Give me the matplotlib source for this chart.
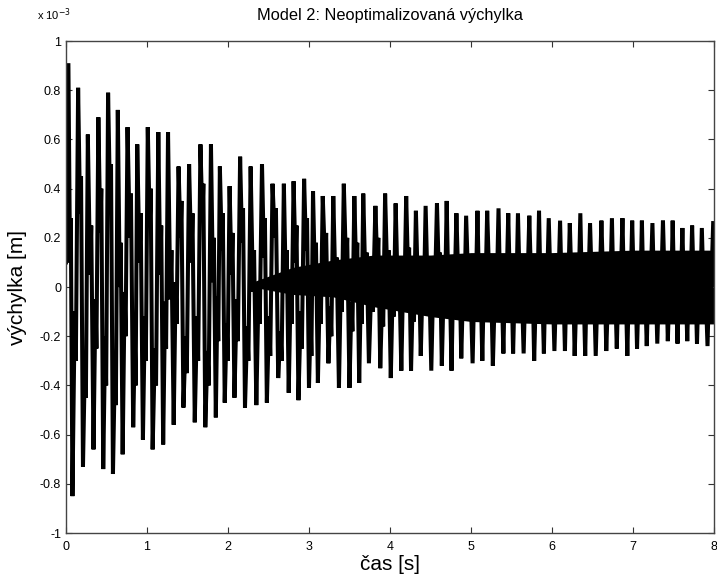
import numpy as np
import matplotlib
matplotlib.use("Agg")
import matplotlib.pyplot as plt
from matplotlib.ticker import FuncFormatter

plt.rcParams["font.family"] = ["Liberation Sans", "DejaVu Sans"]
plt.rcParams["axes.unicode_minus"] = False

# values, in units of 1e-3 m
start_t = [0.0]
start_v = [0.10]

top_t = [0.03, 0.15, 0.27, 0.40, 0.52, 0.64, 0.76, 0.88,
         1.01, 1.14, 1.26, 1.39, 1.52, 1.66, 1.79, 1.90,
         2.02, 2.15, 2.28, 2.42, 2.55, 2.69, 2.81, 2.94,
         3.05, 3.17, 3.30, 3.43, 3.56, 3.67, 3.82, 3.94,
         4.07, 4.20, 4.32, 4.44, 4.58, 4.70, 4.82, 4.94,
         5.08, 5.20, 5.34, 5.46, 5.58, 5.72, 5.84, 5.96,
         6.10, 6.22, 6.35, 6.47, 6.61, 6.74, 6.87, 6.99,
         7.11, 7.24, 7.37, 7.49, 7.61, 7.73, 7.85, 7.99]
top_v = [0.91, 0.81, 0.62, 0.69, 0.79, 0.72, 0.65, 0.58,
         0.65, 0.63, 0.63, 0.49, 0.50, 0.58, 0.58, 0.49,
         0.41, 0.53, 0.49, 0.50, 0.42, 0.42, 0.43, 0.44,
         0.39, 0.37, 0.37, 0.42, 0.37, 0.38, 0.33, 0.38,
         0.34, 0.37, 0.31, 0.33, 0.34, 0.35, 0.30, 0.29,
         0.31, 0.31, 0.32, 0.30, 0.30, 0.29, 0.31, 0.28,
         0.27, 0.26, 0.30, 0.26, 0.27, 0.28, 0.28, 0.27,
         0.27, 0.26, 0.27, 0.27, 0.24, 0.25, 0.24, 0.26]

bot_t = [0.08, 0.21, 0.34, 0.46, 0.58, 0.70, 0.83, 0.95,
         1.07, 1.20, 1.33, 1.45, 1.59, 1.72, 1.85, 1.96,
         2.08, 2.21, 2.35, 2.48, 2.62, 2.75, 2.87,
         3.00, 3.11, 3.24, 3.37, 3.50, 3.62, 3.74, 3.88,
         4.01, 4.14, 4.26, 4.38, 4.51, 4.64, 4.76, 4.88,
         5.02, 5.14, 5.27, 5.40, 5.52, 5.65, 5.78, 5.90,
         6.03, 6.16, 6.28, 6.41, 6.54, 6.67, 6.80, 6.93,
         7.05, 7.17, 7.30, 7.43, 7.55, 7.67, 7.79, 7.92]
bot_v = [-0.85, -0.73, -0.66, -0.74, -0.76, -0.68, -0.57, -0.62,
         -0.66, -0.64, -0.56, -0.49, -0.55, -0.57, -0.53, -0.47,
         -0.45, -0.49, -0.48, -0.47, -0.37, -0.43, -0.46,
         -0.41, -0.39, -0.31, -0.41, -0.41, -0.39, -0.31, -0.33,
         -0.37, -0.34, -0.34, -0.28, -0.34, -0.32, -0.34, -0.29,
         -0.31, -0.30, -0.32, -0.27, -0.27, -0.27, -0.30, -0.27,
         -0.26, -0.26, -0.28, -0.28, -0.28, -0.26, -0.25, -0.28,
         -0.25, -0.24, -0.23, -0.22, -0.23, -0.22, -0.23, -0.24]

# steps of the fast component inside each stroke (one value per cycle)
# down-stroke: falls to dn_dip, climbs back to dn_bump, then on to the bottom
dn_dip = [0.10, 0.30, 0.05, 0.22, 0.35, 0.00, 0.20, 0.10,
          0.25, 0.05, -0.05, 0.20, 0.10, 0.28, 0.02, 0.15,
          0.05, 0.18, -0.02, 0.12, 0.20, 0.00, 0.10, 0.15,
          0.02, 0.10, -0.02, 0.08, 0.05, 0.00, 0.08, 0.02,
          -0.05, 0.05, 0.00, -0.06, 0.04, -0.08, 0.02, -0.05,
          -0.08, 0.00, -0.10, -0.04, -0.08, 0.00, -0.10, -0.06,
          -0.08, -0.02, -0.10, -0.06, 0.00, -0.10, -0.08, -0.04,
          -0.10, -0.06, -0.02, -0.10, -0.08, -0.04, -0.10]
dn_bump = [0.28, 0.45, 0.25, 0.40, 0.50, 0.18, 0.38, 0.30,
           0.40, 0.25, 0.15, 0.35, 0.30, 0.42, 0.20, 0.30,
           0.22, 0.32, 0.15, 0.28, 0.32, 0.15, 0.25, 0.28,
           0.18, 0.22, 0.12, 0.20, 0.18, 0.14, 0.20, 0.15,
           0.10, 0.16, 0.12, 0.08, 0.14, 0.06, 0.12, 0.08,
           0.06, 0.12, 0.04, 0.10, 0.06, 0.12, 0.04, 0.08,
           0.06, 0.12, 0.04, 0.08, 0.12, 0.04, 0.06, 0.10,
           0.04, 0.08, 0.12, 0.04, 0.06, 0.10, 0.04]
# up-stroke: rises to up_bump, falls back to up_dip, then on to the next top
up_bump = [-0.10, -0.30, -0.05, -0.20, -0.32, -0.02, -0.22, -0.12,
           -0.25, -0.06, 0.02, -0.20, -0.12, -0.26, -0.04, -0.15,
           -0.05, -0.16, 0.00, -0.12, -0.18, 0.00, -0.10, -0.14,
           0.00, -0.08, 0.04, -0.06, -0.02, 0.04, -0.04, 0.00,
           0.06, 0.00, 0.04, 0.08, 0.02, 0.10, 0.02, 0.06,
           0.10, 0.02, 0.12, 0.06, 0.10, 0.02, 0.12, 0.08,
           0.10, 0.04, 0.12, 0.06, 0.02, 0.12, 0.08, 0.04,
           0.12, 0.08, 0.04, 0.12, 0.10, 0.06, 0.12]
up_dip = [-0.30, -0.45, -0.25, -0.40, -0.48, -0.20, -0.40, -0.30,
          -0.40, -0.25, -0.15, -0.35, -0.30, -0.40, -0.22, -0.30,
          -0.22, -0.30, -0.15, -0.28, -0.30, -0.15, -0.25, -0.28,
          -0.15, -0.20, -0.10, -0.18, -0.15, -0.10, -0.16, -0.12,
          -0.08, -0.14, -0.10, -0.06, -0.12, -0.04, -0.12, -0.08,
          -0.06, -0.12, -0.04, -0.10, -0.06, -0.12, -0.04, -0.08,
          -0.06, -0.12, -0.04, -0.08, -0.12, -0.04, -0.06, -0.10,
          -0.04, -0.08, -0.12, -0.04, -0.06, -0.10, -0.04]

# dense band of the faster component (upper / lower edge)
band_t = [2.3, 2.8, 3.3, 3.8, 4.5, 5.0, 6.0, 7.0, 8.0]
band_hi = [0.02, 0.08, 0.11, 0.13, 0.13, 0.14, 0.14, 0.15, 0.15]
band_lo = [0.00, -0.03, -0.04, -0.08, -0.12, -0.14, -0.15, -0.15, -0.15]

# put the read points in time order: top, steps, bottom, steps, top ...
t = list(start_t)
y = list(start_v)
for i in range(len(top_t)):
    t.append(top_t[i])
    y.append(top_v[i])
    if i < len(bot_t):
        dt = bot_t[i] - top_t[i]
        t += [top_t[i] + 0.4 * dt, top_t[i] + 0.6 * dt, bot_t[i]]
        y += [dn_dip[i], dn_bump[i], bot_v[i]]
        if i + 1 < len(top_t):
            dt = top_t[i + 1] - bot_t[i]
            t += [bot_t[i] + 0.4 * dt, bot_t[i] + 0.6 * dt]
            y += [up_bump[i], up_dip[i]]

fig = plt.figure(figsize=(7.17, 5.79), dpi=100)
ax = fig.add_axes([0.092, 0.0794, 0.9038, 0.8497])

ax.fill_between(band_t, band_lo, band_hi, color="black", linewidth=0)
ax.plot(t, y, color="black", linewidth=2.9, solid_joinstyle="bevel")

ax.set_xlim(0, 8)
ax.set_ylim(-1, 1)
ax.set_xticks(range(0, 9))
ax.set_yticks(np.round(np.arange(-1, 1.01, 0.2), 1))
ax.yaxis.set_major_formatter(FuncFormatter(lambda v, p: "%g" % (0 if abs(v) < 1e-9 else v)))
ax.tick_params(direction="in", top=True, right=True, length=4,
               labelsize=9, width=0.8, colors="#333333", labelcolor="black")
ax.tick_params(axis="x", pad=6)
for s in ax.spines.values():
    s.set_color("#444444")
    s.set_linewidth(1.0)

ax.set_title("Model 2: Neoptimalizovaná výchylka", fontsize=11.8, pad=15)
ax.set_xlabel("čas [s]", fontsize=15, labelpad=1)
ax.set_ylabel("výchylka [m]", fontsize=15, labelpad=9)
fig.text(0.052, 0.966, "x 10$^{-3}$", fontsize=8)

fig.savefig("out.png", dpi=100)
